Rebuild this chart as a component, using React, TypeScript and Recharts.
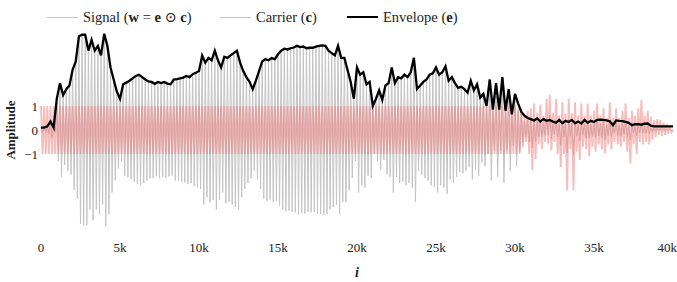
import React from 'react';
import { LineChart, Line, XAxis, YAxis } from 'recharts';

// envelope e, one value every 200 samples (0 .. 40k)
const envelope = [
  0.1, 0.1, 0.15, 0.35, 0.1, 1.3, 1.95, 1.45, 1.7, 1.85,
  2.5, 2.85, 3.9, 3.96, 3.96, 3.3, 3.75, 3.3, 3.5, 3.1,
  4.0, 3.5, 2.6, 2.1, 1.6, 1.3,
  1.9, 1.97, 2.05, 2.15, 2.25, 2.3, 2.2, 2.1, 2.02, 2.0,
  1.92, 2.0, 1.95, 2.0, 1.93, 1.9, 2.1, 2.12, 2.15, 2.18,
  2.25, 2.2, 2.32, 2.38, 2.45,
  3.1, 2.8, 3.0, 2.9, 3.3, 2.9, 2.6, 3.05, 3.0, 3.1,
  3.2, 3.3, 2.8, 2.45, 2.2, 2.0, 1.7, 2.05, 2.45, 2.85,
  2.95, 2.9, 2.99, 2.95, 3.15,
  3.3, 3.38, 3.35, 3.4, 3.43, 3.5, 3.45, 3.47, 3.4, 3.42,
  3.42, 3.47, 3.5, 3.52, 3.5, 3.3, 3.2, 3.1, 3.5, 3.0,
  3.0, 2.5, 2.0, 1.3, 2.6,
  2.3, 2.4, 1.9, 2.0, 1.0, 1.3, 1.65, 1.25, 1.85, 1.95,
  2.6, 1.95, 2.2, 2.15, 2.3, 2.2, 2.4, 3.0, 1.7, 1.85,
  2.0, 2.1, 2.3, 2.36, 2.6, 2.3,
  2.4, 2.65, 2.05, 2.2, 1.95, 1.75, 1.8, 1.7, 1.55, 2.05,
  1.65, 1.9, 1.35, 1.5, 1.0, 2.1, 0.85, 1.95, 0.85, 2.2,
  0.8, 1.7, 0.65, 1.5, 1.1,
  0.75, 0.6, 0.5, 0.45, 0.4, 0.48, 0.35, 0.45, 0.38, 0.42,
  0.35, 0.3, 0.42, 0.28, 0.38, 0.33, 0.42, 0.28, 0.35, 0.27,
  0.42, 0.3, 0.38, 0.33, 0.42,
  0.43, 0.42, 0.4, 0.36, 0.2, 0.4, 0.38, 0.37, 0.34, 0.3,
  0.2, 0.24, 0.24, 0.22, 0.26, 0.27, 0.18, 0.15, 0.15, 0.15,
  0.15, 0.15, 0.15, 0.15,
];

// carrier c: positive and negative swing inside each 200-sample bin
const carrierHi = [
  1, 1, 1, 1, 1, 1, 1, 1, 1, 1,
  1, 1, 1, 1, 1, 1, 1, 1, 1, 1,
  1, 1, 1, 1, 1, 1, 1, 1, 1, 1,
  1, 1, 1, 1, 1, 1, 1, 1, 1, 1,
  1, 1, 1, 1, 1, 1, 1, 1, 1, 1,
  1, 1, 1, 1, 1, 1, 1, 1, 1, 1,
  1, 1, 1, 1, 1, 1, 1, 1, 1, 1,
  1, 1, 1, 1, 1, 1, 1, 1, 1, 1,
  1, 1, 1, 1, 1, 1, 1, 1, 1, 1,
  1, 1, 1, 1, 1, 1, 1, 1, 1, 1,
  1, 1, 1, 1, 1, 1, 1, 1, 1, 1,
  1, 1, 1, 1, 1, 1, 1, 1, 1, 1,
  1, 1, 1, 1, 1, 1, 1, 1, 1, 1,
  1, 1, 1, 1, 1, 1, 1, 1, 1, 1,
  1, 1, 1, 1, 1, 1, 1, 1, 1, 1,
  1, 0.8, 0.9, 0.6, 0.8, 0.9, 1.1, 0.7, 1.05, 0.6,
  1.3, 1.46, 0.7, 1.3, 0.6, 1.15, 0.7, 1.3, 0.7, 1.15,
  0.6, 1.1, 0.6, 1.1, 0.6, 0.8, 1.1, 0.6, 0.9, 0.5,
  1.15, 0.5, 0.9, 0.5, 0.8, 1.1, 0.5, 0.8, 0.6, 0.9,
  1.25, 0.6, 0.8, 0.55, 0.4, 0.45, 0.42, 0.3, 0.25, 0.2,
];
const carrierLo = [
  -1, -1, -1, -1, -1, -1, -1, -1, -1, -1,
  -1, -1, -1, -1, -1, -1, -1, -1, -1, -1,
  -1, -1, -1, -1, -1, -1, -1, -1, -1, -1,
  -1, -1, -1, -1, -1, -1, -1, -1, -1, -1,
  -1, -1, -1, -1, -1, -1, -1, -1, -1, -1,
  -1, -1, -1, -1, -1, -1, -1, -1, -1, -1,
  -1, -1, -1, -1, -1, -1, -1, -1, -1, -1,
  -1, -1, -1, -1, -1, -1, -1, -1, -1, -1,
  -1, -1, -1, -1, -1, -1, -1, -1, -1, -1,
  -1, -1, -1, -1, -1, -1, -1, -1, -1, -1,
  -1, -1, -1, -1, -1, -1, -1, -1, -1, -1,
  -1, -1, -1, -1, -1, -1, -1, -1, -1, -1,
  -1, -1, -1, -1, -1, -1, -1, -1, -1, -1,
  -1, -1, -1, -1, -1, -1, -1, -1, -1, -1,
  -1, -1, -1, -1, -1, -1, -1, -1, -1, -1,
  -1, -0.9, -0.7, -0.5, -1.0, -1.67, -1.2, -0.6, -0.8, -0.5,
  -0.6, -0.85, -0.5, -1.0, -1.55, -1.0, -2.5, -0.8, -2.5, -0.9,
  -1.25, -0.7, -0.8, -1.1, -0.7, -0.9, -0.6, -0.8, -0.97, -0.6,
  -0.8, -0.5, -0.6, -0.69, -0.5, -0.9, -1.39, -0.6, -1.0, -0.5,
  -0.6, -0.5, -0.6, -0.4, -0.3, -0.2, -0.25, -0.2, -0.15, -0.1,
];

const xTicks = [0, 5000, 10000, 15000, 20000, 25000, 30000, 35000, 40000];
const yTicks = [-1, 0, 1];

const STEP = 100;
const data: { i: number; signal: number; carrier: number; envelope: number | null }[] = [];
for (let j = 0; j < envelope.length * 2 - 1; j++) {
  const k = Math.floor(j / 2);
  const e = envelope[k] ?? 0;
  const c = (j % 2 === 0 ? carrierHi[k] : carrierLo[k]) ?? 0;
  data.push({ i: j * STEP, signal: e * c, carrier: c, envelope: j % 2 === 0 ? e : null });
}

const FONT = '"Liberation Serif", "DejaVu Serif", serif';
const SIGNAL = '#c4c4c4';
const CARRIER = '#ee7b7b';

function LegendBox() {
  const item = (left: number, swatch: React.CSSProperties, text: React.ReactNode) => (
    <div style={{ position: 'absolute', left, top: 0, display: 'flex', alignItems: 'center', height: 20 }}>
      <div style={{ width: 31, height: 0, marginRight: 5, ...swatch }} />
      <span style={{ fontSize: 14.5, color: '#222', whiteSpace: 'nowrap' }}>{text}</span>
    </div>
  );
  return (
    <div style={{ position: 'absolute', left: 0, top: 7, width: 677, height: 20, fontFamily: FONT }}>
      {item(47, { borderTop: '1.5px solid #c4c4c4' },
        <>Signal (<b>w</b> = <b>e</b> ⊙ <b>c</b>)</>)}
      {item(220, { borderTop: '1.5px solid #f4aaaa' }, <>Carrier (<b>c</b>)</>)}
      {item(347, { borderTop: '2.5px solid #000' }, <>Envelope (<b>e</b>)</>)}
    </div>
  );
}

export default function App() {
  return (
    <div style={{ position: 'fixed', left: 0, top: 0, width: 677, height: 282, background: '#fff', fontFamily: FONT }}>
      <LineChart width={677} height={282} data={data} margin={{ top: 29, right: 4, left: 0, bottom: 21 }}>
        <XAxis
          dataKey="i"
          type="number"
          domain={[0, 40000]}
          ticks={xTicks}
          tickFormatter={(v: number) => (v === 0 ? '0' : `${v / 1000}k`)}
          axisLine={false}
          tickLine={false}
          tickSize={0}
          tickMargin={12}
          tick={{ fontSize: 13, fill: '#222', fontFamily: FONT }}
          label={{
            content: ({ viewBox }: any) => (
              <text x={viewBox.x + viewBox.width / 2} y={277} textAnchor="middle"
                fontSize={14} fontWeight="bold" fontStyle="italic" fill="#222" fontFamily={FONT}>i</text>
            ),
          }}
        />
        <YAxis
          type="number"
          domain={[-4.2, 4.2]}
          ticks={yTicks}
          width={41}
          tickFormatter={(v: number) => (v < 0 ? `−${-v}` : `${v}`)}
          axisLine={false}
          tickLine={false}
          tickSize={0}
          tickMargin={3}
          tick={{ fontSize: 13, fill: '#222', fontFamily: FONT }}
          label={{
            content: ({ viewBox }: any) => {
              const cy = viewBox.y + viewBox.height / 2;
              return (
                <text x={10} y={cy} transform={`rotate(-90, 10, ${cy})`} textAnchor="middle"
                  dominantBaseline="central" fontSize={13} fontWeight="bold" fill="#222" fontFamily={FONT}>
                  Amplitude
                </text>
              );
            },
          }}
        />
        <Line type="linear" dataKey="signal" stroke={SIGNAL} strokeWidth={1} dot={false} isAnimationActive={false} />
        <Line type="linear" dataKey="carrier" stroke={CARRIER} strokeOpacity={0.5} strokeWidth={1.9} dot={false} isAnimationActive={false} />
        <Line type="linear" dataKey="envelope" stroke="#000" strokeWidth={2.3} dot={false} connectNulls isAnimationActive={false} />
      </LineChart>
      <LegendBox />
    </div>
  );
}
